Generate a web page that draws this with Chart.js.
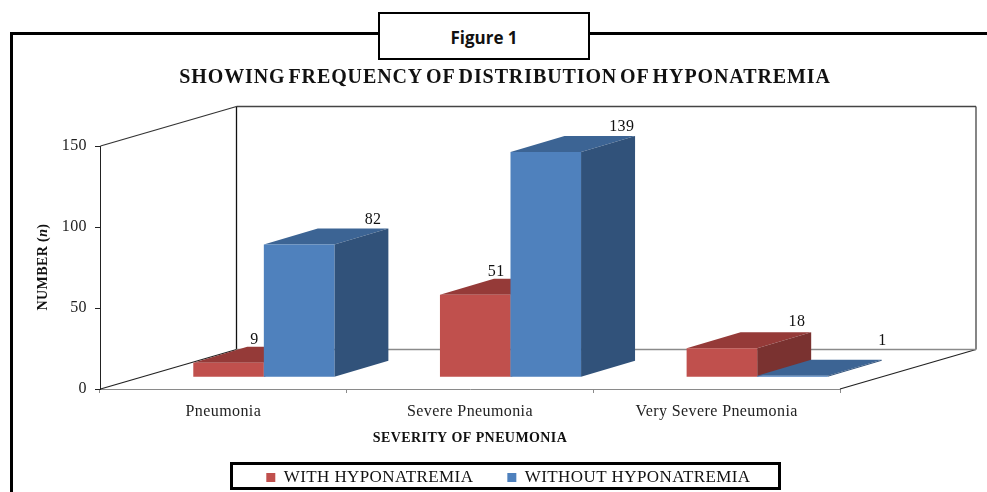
<!DOCTYPE html>
<html>
<head>
<meta charset="utf-8">
<title>Hyponatremia</title>
<script src="https://cdn.jsdelivr.net/npm/chart.js@4"></script>
<style>
  html, body { margin: 0; background: #fff; overflow: hidden; }
  #page { position: relative; width: 987px; height: 492px; }
  #frame { position: absolute; left: 10px; top: 32px; width: 977px; height: 460px; border-left: 3px solid #000; border-top: 3px solid #000; box-sizing: border-box; }
  #figure-box { position: absolute; left: 378px; top: 12px; width: 212px; height: 48px; box-sizing: border-box; border: 2px solid #000; background: #fff; text-align: center; font: bold 17px/47px "Open Sans", sans-serif; color: #111; }
  #legend-box { position: absolute; left: 230px; top: 462px; width: 551px; height: 28px; box-sizing: border-box; border: 3px solid #000; }
  canvas { position: absolute; left: 0; top: 0; }
</style>
</head>
<body>
<div id="page">
  <div id="frame"></div>
  <div id="legend-box"></div>
  <canvas id="bar-chart" width="987" height="492"></canvas>
  <div id="figure-box">Figure 1</div>
</div>
<script>
"use strict";

const categories = ["Pneumonia", "Severe Pneumonia", "Very Severe Pneumonia"];
const withHyponatremia = [9, 51, 18];
const withoutHyponatremia = [82, 139, 1];
const valueAxisMax = 150;
const valueAxisStep = 50;

const chartTitle = "SHOWING FREQUENCY OF DISTRIBUTION OF HYPONATREMIA";
const serif = "'Liberation Serif', serif";

// floor depth in px, and how far into it the bars stand
const depth = { x: 136, y: 39.5 };
const barFront = { x: 40.5, y: 11.7 };
const barDepth = { x: 54, y: 16 };

const faces = [
  { top: "#953a38", side: "#7a3230" },
  { top: "#3c6494", side: "#31527a" },
];

// the data labels sit by hand around the bars, offset from each bar's front top centre
const labelOffsets = [
  [[26, -23], [21, -23], [75, -26]],
  [[74, -25], [76, -25], [90, -35]],
];

function drawFace(ctx, points, color) {
  ctx.fillStyle = color;
  ctx.beginPath();
  points.forEach(([x, y], i) => (i ? ctx.lineTo(x, y) : ctx.moveTo(x, y)));
  ctx.closePath();
  ctx.fill();
}

function drawLine(ctx, x1, y1, x2, y2, color) {
  ctx.strokeStyle = color;
  ctx.lineWidth = 1.3;
  ctx.beginPath();
  ctx.moveTo(x1, y1);
  ctx.lineTo(x2, y2);
  ctx.stroke();
}

function drawWalls(ctx, chart) {
  const { x: xScale, y: yScale } = chart.scales;
  const left = xScale.left + 0.5;
  const right = xScale.right;
  const top = yScale.getPixelForValue(valueAxisMax);
  const bottom = yScale.getPixelForValue(0);

  drawLine(ctx, left, top, left + depth.x, top - depth.y, "#333");
  drawLine(ctx, left, bottom, left + depth.x, bottom - depth.y, "#222");
  drawLine(ctx, right, bottom, right + depth.x, bottom - depth.y, "#222");
  drawLine(ctx, left + depth.x, top - depth.y, right + depth.x, top - depth.y, "#444");
  drawLine(ctx, left + depth.x, top - depth.y, left + depth.x, bottom - depth.y, "#111");
  drawLine(ctx, right + depth.x, top - depth.y, right + depth.x, bottom - depth.y, "#444");
  drawLine(ctx, left + depth.x, bottom - depth.y, right + depth.x, bottom - depth.y, "#8a8a8a");
}

function drawBar(ctx, bar, face) {
  const x1 = bar.x - bar.width / 2;
  const x2 = bar.x + bar.width / 2;
  const dx = barDepth.x;
  const dy = barDepth.y;

  drawFace(ctx, [[x1, bar.y], [x2, bar.y], [x2 + dx, bar.y - dy], [x1 + dx, bar.y - dy]], face.top);
  drawFace(ctx, [[x2, bar.y], [x2 + dx, bar.y - dy], [x2 + dx, bar.base - dy], [x2, bar.base]], face.side);
  bar.draw(ctx);
}

function drawChartTitle(ctx) {
  ctx.save();
  ctx.font = "bold 20px " + serif;
  ctx.letterSpacing = "0.9px";
  ctx.wordSpacing = "-3px";
  ctx.fillStyle = "#111";
  ctx.textAlign = "center";
  ctx.textBaseline = "middle";
  ctx.fillText(chartTitle, 505, 78);
  ctx.restore();
}

function drawValueAxisTitle(ctx) {
  const parts = [
    ["NUMBER (", "bold 14px " + serif],
    ["n", "italic bold 14px " + serif],
    [")", "bold 14px " + serif],
  ];
  ctx.save();
  ctx.translate(47, 267);
  ctx.rotate(-Math.PI / 2);
  ctx.fillStyle = "#111";
  ctx.textBaseline = "alphabetic";
  ctx.textAlign = "left";
  let width = 0;
  parts.forEach(([text, font]) => {
    ctx.font = font;
    width += ctx.measureText(text).width;
  });
  let x = -width / 2;
  parts.forEach(([text, font]) => {
    ctx.font = font;
    ctx.fillText(text, x, 0);
    x += ctx.measureText(text).width;
  });
  ctx.restore();
}

const boxes3d = {
  id: "boxes3d",
  beforeDraw(chart) {
    chart.ctx.letterSpacing = "0.4px";
  },
  afterLayout(chart) {
    // the legend centres under the box around it, not the narrower plot
    chart.legend.right = chart.width - 8;
    chart.legend.top = 435;
  },
  beforeDatasetsDraw(chart) {
    const ctx = chart.ctx;
    drawWalls(ctx, chart);

    // red before blue, so each blue bar covers its neighbour's side
    ctx.save();
    ctx.translate(barFront.x, -barFront.y);
    chart.data.datasets.forEach((dataset, d) => {
      chart.getDatasetMeta(d).data.forEach((bar) => drawBar(ctx, bar, faces[d]));
    });
    ctx.restore();

    ctx.fillStyle = "#111";
    ctx.font = "16px " + serif;
    ctx.textAlign = "center";
    ctx.textBaseline = "middle";
    chart.data.datasets.forEach((dataset, d) => {
      chart.getDatasetMeta(d).data.forEach((bar, i) => {
        const [ox, oy] = labelOffsets[d][i];
        ctx.fillText(dataset.data[i], bar.x + barFront.x + ox, bar.y - barFront.y + oy);
      });
    });

    drawChartTitle(ctx);
    drawValueAxisTitle(ctx);
    return false;
  },
};

new Chart(document.querySelector("#bar-chart"), {
  type: "bar",
  data: {
    labels: categories,
    datasets: [
      { label: "WITH HYPONATREMIA", data: withHyponatremia, backgroundColor: "#c0504d" },
      { label: "WITHOUT HYPONATREMIA", data: withoutHyponatremia, backgroundColor: "#4f81bd" },
    ],
  },
  options: {
    responsive: false,
    animation: false,
    categoryPercentage: 0.572,
    barPercentage: 1,
    layout: { padding: { left: 23, right: 147, top: 146, bottom: -28 } },
    plugins: {
      legend: {
        position: "bottom",
        labels: {
          color: "#111",
          font: { family: serif, size: 17 },
          boxWidth: 9,
          boxHeight: 9,
          padding: 34,
        },
      },
      tooltip: { enabled: false },
    },
    scales: {
      x: {
        afterFit(scale) { scale.height = 70; },
        grid: { drawOnChartArea: false, tickLength: 4, tickColor: "#8a8a8a" },
        border: { color: "#8a8a8a" },
        ticks: { color: "#222", padding: 9, maxRotation: 0, font: { family: serif, size: 16 } },
        title: {
          display: true,
          text: "SEVERITY OF PNEUMONIA",
          color: "#111",
          font: { family: serif, size: 14, weight: "bold" },
          padding: { top: 0, bottom: 12 },
        },
      },
      y: {
        min: 0,
        max: valueAxisMax,
        afterFit(scale) { scale.width = 77; },
        grid: { drawOnChartArea: false, tickLength: 5, tickColor: "#222" },
        border: { color: "#222" },
        ticks: { color: "#222", stepSize: valueAxisStep, padding: 8, font: { family: serif, size: 16 } },
      },
    },
  },
  plugins: [boxes3d],
});
</script>
</body>
</html>
